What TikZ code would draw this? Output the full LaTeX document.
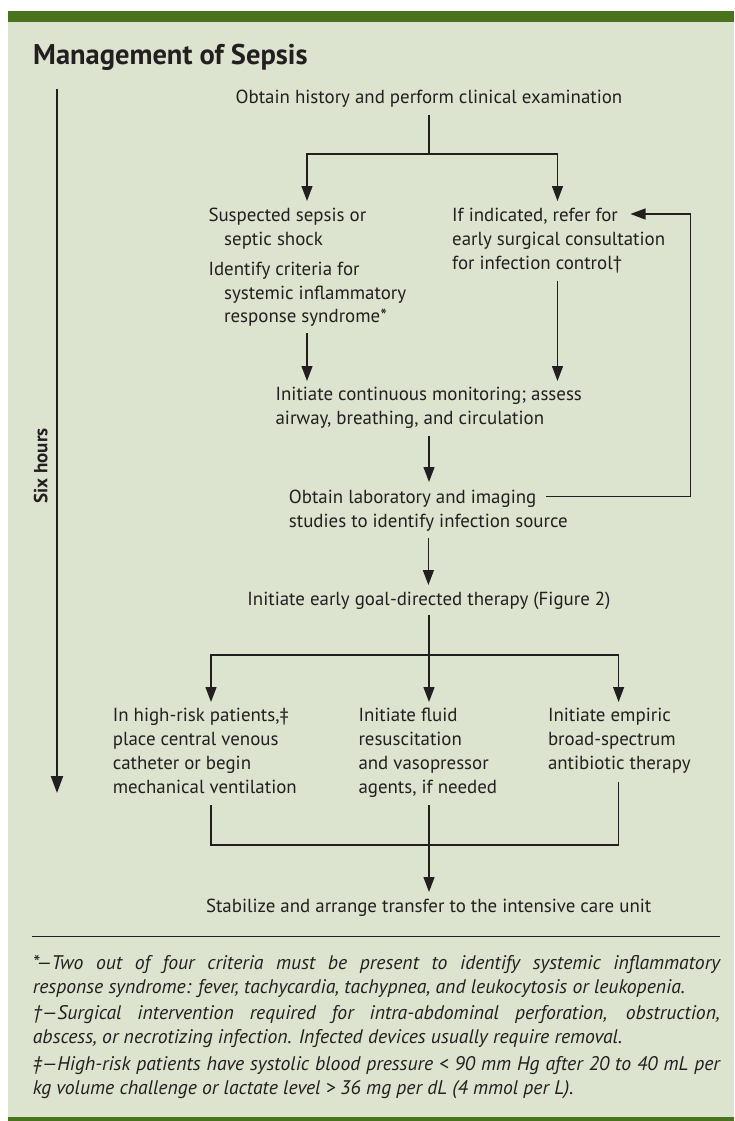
\documentclass[tikz,border=0pt]{standalone}
\usepackage{fontspec}
\setmainfont{PT Sans}
\usetikzlibrary{arrows.meta}
\definecolor{bg}{RGB}{220,227,207}
\definecolor{bar}{RGB}{75,115,30}
\definecolor{ink}{RGB}{35,31,32}
\newcommand{\ind}{\hspace*{15.7pt}}
\newcommand{\blk}[1]{\begin{tabular}[t]{@{}l@{}}#1\end{tabular}}
\begin{document}
\begin{tikzpicture}[x=1pt,y=-1pt,
  txt/.style={anchor=base west, inner sep=0pt, text=ink, font=\fontsize{18.9}{23.8}\selectfont},
  conn/.style={draw=ink, line width=1.3pt},
  arr/.style={conn, -{Triangle[width=11pt,length=15pt]}}]
\useasboundingbox (0,0) rectangle (734,1121);
\fill[white] (0,0) rectangle (734,1121);
\fill[bg] (8,11) rectangle (734,1121);
\fill[bar] (8,11) rectangle (734,22);
\fill[bar] (8,1117) rectangle (734,1121);
% title
\node[anchor=base west, inner sep=0pt, text=ink, font=\bfseries\fontsize{28.5}{30}\selectfont] (title) at (33,65) {Management of Sepsis};
% time axis
\coordinate (t0) at (57,89);
\coordinate (t1) at (57,793);
\draw[draw=ink, line width=2.2pt, -{Triangle[width=12pt,length=17pt]}] (t0) -- (t1);
\node[rotate=90, anchor=base, inner sep=0pt, text=ink, font=\bfseries\fontsize{19}{20}\selectfont] (six) at (47.3,466) {Six hours};
% nodes
\node[txt, anchor=base] (hist) at (429,104) {Obtain history and perform clinical examination};
\node[txt] (sus) at (208.3,221.7) {\blk{Suspected sepsis or\\\ind septic shock\\[6pt]Identify criteria for\\\ind systemic inflammatory\\\ind response syndrome*}};
\node[txt] (ref) at (452,221.7) {\blk{If indicated, refer for\\early surgical consultation\\for infection control†}};
\node[txt] (mon) at (275.4,400.7) {\blk{Initiate continuous monitoring; assess\\airway, breathing, and circulation}};
\node[txt] (lab) at (288.7,503.3) {\blk{Obtain laboratory and imaging\\studies to identify infection source}};
\node[txt, anchor=base] (egdt) at (429,605) {Initiate early goal-directed therapy (Figure 2)};
\node[txt] (hr) at (112.6,721.7) {\blk{In high-risk patients,‡\\place central venous\\catheter or begin\\mechanical ventilation}};
\node[txt] (fluid) at (358.3,721.7) {\blk{Initiate fluid\\resuscitation\\and vasopressor\\agents, if needed}};
\node[txt] (abx) at (547.8,721.7) {\blk{Initiate empiric\\broad-spectrum\\antibiotic therapy}};
\node[txt, anchor=base] (stab) at (428.7,912.3) {Stabilize and arrange transfer to the intensive care unit};
% connector coordinates
\coordinate (histS) at (429,115);
\coordinate (j1) at (429,154);
\coordinate (susN) at (307,201);
\coordinate (refN) at (557.5,201);
\coordinate (susS) at (307,333);
\coordinate (monNL) at (307,381);
\coordinate (refS) at (557.5,280.7);
\coordinate (monNR) at (557.5,381);
\coordinate (monS) at (429,435.7);
\coordinate (labN) at (429,482);
\coordinate (labE) at (545.8,496.7);
\coordinate (loopB) at (690.6,496.7);
\coordinate (refE) at (630.5,214);
\coordinate (labS) at (428.4,538.3);
\coordinate (egdtN) at (428.4,585);
\coordinate (egdtS) at (429,615);
\coordinate (j2) at (429,655);
\coordinate (hrN) at (211,702);
\coordinate (fluidN) at (429,702);
\coordinate (abxN) at (618.6,702);
\coordinate (hrS) at (211,805);
\coordinate (fluidS) at (429,805);
\coordinate (abxS) at (618.6,781.7);
\coordinate (j3) at (429,845);
\coordinate (stabN) at (429,892);
% connectors
\draw[conn] (histS) -- (j1);
\draw[arr] (j1) -| (susN);
\draw[arr] (j1) -| (refN);
\draw[arr] (susS) -- (monNL);
\draw[arr] (refS) -- (monNR);
\draw[arr] (monS) -- (labN);
\draw[arr] (labE) -- (loopB) |- (refE);
\draw[arr] (labS) -- (egdtN);
\draw[conn] (egdtS) -- (j2);
\draw[arr] (j2) -- (fluidN);
\draw[arr] (j2) -| (hrN);
\draw[arr] (j2) -| (abxN);
\draw[conn] (hrS) |- (j3) -| (abxS);
\draw[arr] (fluidS) -- (stabN);
% rule
\coordinate (rL) at (32,936.7);
\coordinate (rR) at (720,936.7);
\draw[draw=ink, line width=1.3pt] (rL) -- (rR);
% footnotes
\node[anchor=base west, inner sep=0pt, text=ink, font=\itshape\fontsize{19.7}{24}\selectfont] (notes) at (32.7,969.3) {\begin{tabular}[t]{@{}l@{}}%
\makebox[687pt][s]{*—Two out of four criteria must be present to identify systemic inflammatory}\\
response syndrome: fever, tachycardia, tachypnea, and leukocytosis or leukopenia.\\[2pt]
\makebox[687pt][s]{†—Surgical intervention required for intra-abdominal perforation, obstruction,}\\
abscess, or necrotizing infection. Infected devices usually require removal.\\[2.7pt]
\makebox[687pt][s]{‡—High-risk patients have systolic blood pressure < 90 mm Hg after 20 to 40 mL per}\\
kg volume challenge or lactate level > 36 mg per dL (4 mmol per L).
\end{tabular}};
\end{tikzpicture}
\end{document}
